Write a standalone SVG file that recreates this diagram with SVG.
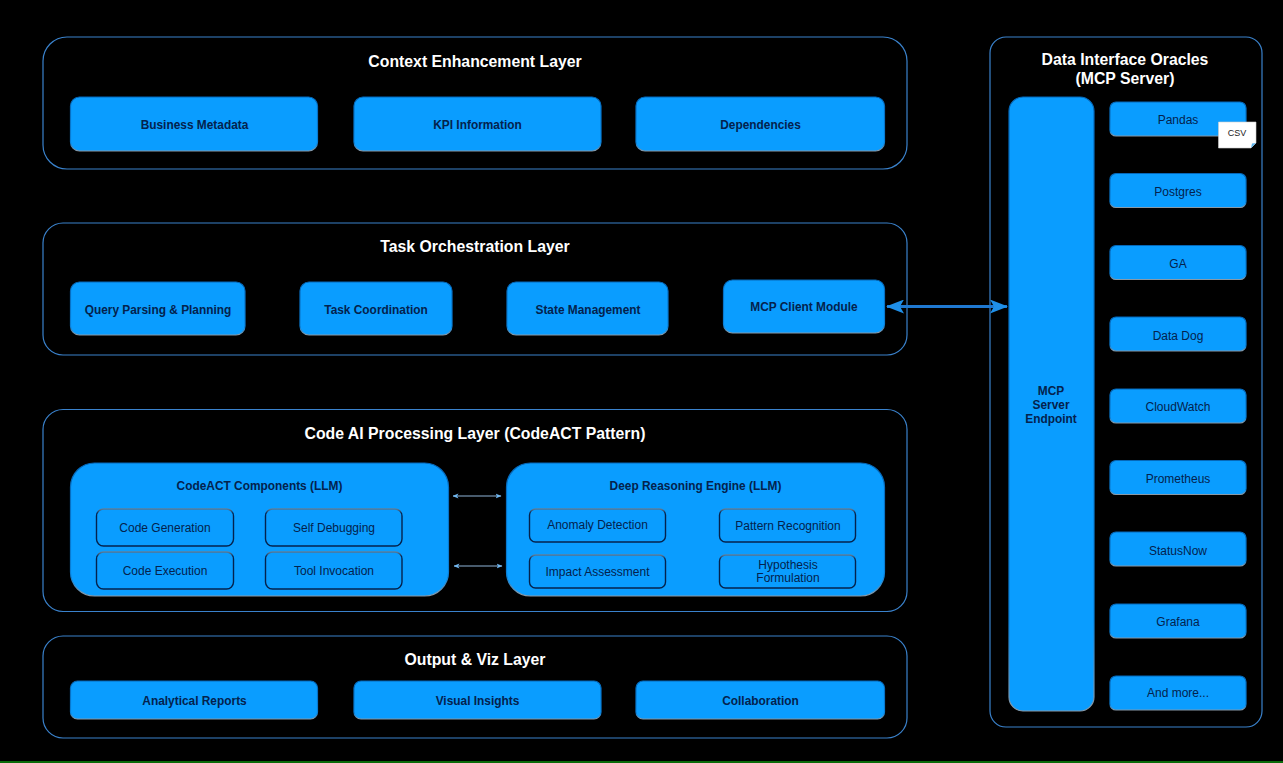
<svg xmlns="http://www.w3.org/2000/svg" width="1283" height="763" viewBox="0 0 1283 763">
<defs>
<linearGradient id="edge" x1="0" y1="0" x2="0" y2="1"><stop offset="0" stop-color="#0567b8"/><stop offset="0.85" stop-color="#0a80d8"/><stop offset="1" stop-color="#8a9aa8"/></linearGradient>
<linearGradient id="edge2" x1="0" y1="0" x2="0" y2="1"><stop offset="0" stop-color="#5d7f9c"/><stop offset="0.12" stop-color="#04224d"/><stop offset="1" stop-color="#04224d"/></linearGradient>
<marker id="ah" viewBox="0 0 18 14" refX="17" refY="7" markerWidth="18" markerHeight="14" markerUnits="userSpaceOnUse" orient="auto-start-reverse"><path d="M0 0L18 7L0 14L4 7Z" fill="#1f8fe8"/></marker>
<marker id="as" viewBox="0 0 6 6" refX="5.5" refY="3" markerWidth="6" markerHeight="6" markerUnits="userSpaceOnUse" orient="auto-start-reverse"><path d="M0 0.5L6 3L0 5.5L1.5 3Z" fill="#6fb6f0"/></marker>
</defs>
<style>
text{font-family:"Liberation Sans",Arial,sans-serif;text-anchor:middle;fill:#04224d}
.layer{fill:#000;stroke:#3a82cc;stroke-width:1.2}
.box{fill:#0a9dff;stroke:url(#edge);stroke-width:1.2}
.inner{fill:#0a9dff;stroke:url(#edge2);stroke-width:1.4}
.lt{font-size:15.8px;font-weight:bold;fill:#fff}
.b{font-size:11.9px;font-weight:bold}
.n{font-size:12px}
</style>
<rect width="1283" height="763" fill="#000"/>
<rect x="0" y="761" width="1283" height="2" fill="#0b6b0b"/>

<g id="layer-context"><rect class="layer" x="43" y="37" width="864" height="132" rx="24"/><text class="lt" x="475" y="67">Context Enhancement Layer</text></g>
<g id="node-business-metadata"><rect class="box" x="70.500" y="97" width="247" height="54" rx="9"/><text class="b" x="194.500" y="129">Business Metadata</text></g>
<g id="node-kpi-information"><rect class="box" x="354" y="97" width="247" height="54" rx="9"/><text class="b" x="477.500" y="129">KPI Information</text></g>
<g id="node-dependencies"><rect class="box" x="636" y="97" width="248.500" height="54" rx="9"/><text class="b" x="760.500" y="129">Dependencies</text></g>

<g id="layer-task"><rect class="layer" x="43" y="223" width="864" height="132" rx="20"/><text class="lt" x="475" y="251.500">Task Orchestration Layer</text></g>
<g id="node-query-parsing"><rect class="box" x="70.500" y="282" width="174.500" height="53" rx="9"/><text class="b" x="158" y="313.500">Query Parsing &amp; Planning</text></g>
<g id="node-task-coordination"><rect class="box" x="300" y="282" width="152" height="53" rx="9"/><text class="b" x="376" y="313.500">Task Coordination</text></g>
<g id="node-state-management"><rect class="box" x="507" y="282" width="161" height="53" rx="9"/><text class="b" x="588" y="314">State Management</text></g>
<g id="node-mcp-client"><rect class="box" x="723.500" y="280" width="161" height="53" rx="9"/><text class="b" x="804" y="311">MCP Client Module</text></g>

<g id="layer-code-ai"><rect class="layer" x="43" y="409.500" width="864" height="202" rx="20"/><text class="lt" x="475" y="438.500">Code AI Processing Layer (CodeACT Pattern)</text></g>
<g id="node-codeact"><rect class="box" x="70.500" y="463" width="378" height="133" rx="24"/><text class="b" x="259.500" y="490">CodeACT Components (LLM)</text></g>
<g id="node-code-generation"><rect class="inner" x="96.500" y="509" width="137" height="37" rx="7"/><text class="n" x="165" y="532">Code Generation</text></g>
<g id="node-self-debugging"><rect class="inner" x="265.500" y="509" width="136.500" height="37" rx="7"/><text class="n" x="334" y="532">Self Debugging</text></g>
<g id="node-code-execution"><rect class="inner" x="96.500" y="552" width="137" height="37" rx="7"/><text class="n" x="165" y="575">Code Execution</text></g>
<g id="node-tool-invocation"><rect class="inner" x="265.500" y="552" width="136.500" height="37" rx="7"/><text class="n" x="334" y="575">Tool Invocation</text></g>
<g id="node-deep-reasoning"><rect class="box" x="506.500" y="463" width="378" height="133" rx="24"/><text class="b" x="695.500" y="490">Deep Reasoning Engine (LLM)</text></g>
<g id="node-anomaly-detection"><rect class="inner" x="529.500" y="509" width="136" height="33" rx="6"/><text class="n" x="597.500" y="529">Anomaly Detection</text></g>
<g id="node-pattern-recognition"><rect class="inner" x="719.500" y="509" width="136" height="33" rx="6"/><text class="n" x="788" y="529.500">Pattern Recognition</text></g>
<g id="node-impact-assessment"><rect class="inner" x="529.500" y="555" width="136" height="33" rx="6"/><text class="n" x="597.500" y="576">Impact Assessment</text></g>
<g id="node-hypothesis"><rect class="inner" x="719.500" y="555" width="136" height="33" rx="6"/><text class="n" x="788" y="569">Hypothesis</text><text class="n" x="788" y="582">Formulation</text></g>

<g id="layer-output"><rect class="layer" x="43" y="636" width="864" height="102" rx="20"/><text class="lt" x="475" y="664.500">Output &amp; Viz Layer</text></g>
<g id="node-analytical-reports"><rect class="box" x="70.500" y="681" width="247" height="38" rx="7"/><text class="b" x="194.500" y="705">Analytical Reports</text></g>
<g id="node-visual-insights"><rect class="box" x="354" y="681" width="247" height="38" rx="7"/><text class="b" x="477.500" y="705">Visual Insights</text></g>
<g id="node-collaboration"><rect class="box" x="636" y="681" width="248.500" height="38" rx="7"/><text class="b" x="760.500" y="705">Collaboration</text></g>

<g id="layer-oracles"><rect class="layer" x="990" y="37" width="272" height="690" rx="16"/><text class="lt" x="1125" y="65">Data Interface Oracles</text><text class="lt" x="1125" y="84">(MCP Server)</text></g>
<g id="node-mcp-endpoint"><rect class="box" x="1009" y="97" width="85" height="614" rx="14"/><text class="b" x="1051" y="395">MCP</text><text class="b" x="1051" y="409">Server</text><text class="b" x="1051" y="423">Endpoint</text></g>
<g id="node-pandas"><rect class="box" x="1110" y="102" width="136" height="34" rx="6"/><text class="n" x="1178" y="124">Pandas</text></g>
<g id="node-postgres"><rect class="box" x="1110" y="173.500" width="136" height="34" rx="6"/><text class="n" x="1178" y="196">Postgres</text></g>
<g id="node-ga"><rect class="box" x="1110" y="245.500" width="136" height="34" rx="6"/><text class="n" x="1178" y="268">GA</text></g>
<g id="node-data-dog"><rect class="box" x="1110" y="317" width="136" height="34" rx="6"/><text class="n" x="1178" y="339.500">Data Dog</text></g>
<g id="node-cloudwatch"><rect class="box" x="1110" y="389" width="136" height="34" rx="6"/><text class="n" x="1178" y="411">CloudWatch</text></g>
<g id="node-prometheus"><rect class="box" x="1110" y="460.500" width="136" height="34" rx="6"/><text class="n" x="1178" y="482.500">Prometheus</text></g>
<g id="node-statusnow"><rect class="box" x="1110" y="532" width="136" height="34" rx="6"/><text class="n" x="1178" y="554.500">StatusNow</text></g>
<g id="node-grafana"><rect class="box" x="1110" y="604" width="136" height="34" rx="6"/><text class="n" x="1178" y="626">Grafana</text></g>
<g id="node-and-more"><rect class="box" x="1110" y="676" width="136" height="34" rx="6"/><text class="n" x="1178" y="697">And more...</text></g>
<g id="node-csv"><path d="M1218.500 122H1256V143L1251 148H1218.500Z" fill="#fff" stroke="#ccc" stroke-width="0.6"/><path d="M1251 148L1252 143.500L1256 143Z" fill="#5bb4ee"/><text x="1237" y="136" font-size="9" style="fill:#222">CSV</text></g>

<g id="connectors" fill="none">
<line x1="887" y1="306.500" x2="1007" y2="306.500" stroke="#1f78d0" stroke-width="3" marker-start="url(#ah)" marker-end="url(#ah)"/>
<line x1="453" y1="496" x2="501" y2="496" stroke="#8fb4d8" stroke-width="1" marker-start="url(#as)" marker-end="url(#as)"/>
<line x1="454" y1="566" x2="502" y2="566" stroke="#8fb4d8" stroke-width="1" marker-start="url(#as)" marker-end="url(#as)"/>
</g>
</svg>
